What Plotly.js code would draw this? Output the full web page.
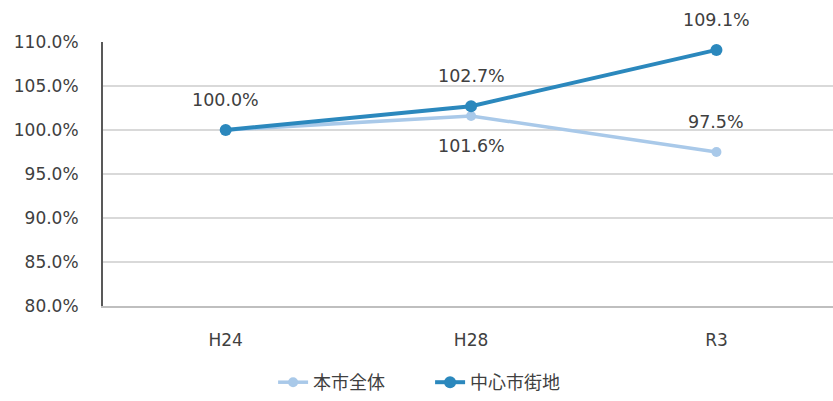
<!DOCTYPE html>
<html><head><meta charset="utf-8">
<script src="https://cdn.plot.ly/plotly-3.0.1.min.js"></script>
<style>html,body{margin:0;padding:0;background:#fff;}#c{width:833px;height:401px;}</style>
</head><body><div id="c"></div>
<script>
var categories = ["H24", "H28", "R3"];
var cityAll = [100.0, 101.6, 97.5];
var center = [100.0, 102.7, 109.1];
var cityAllLabels = ["", "101.6%", "97.5%"];
var centerLabels = ["100.0%", "102.7%", "109.1%"];
var cityAllLabelSide = [1, -1, 1];
var centerLabelSide = [1, 1, 1];
var yTicks = [80, 85, 90, 95, 100, 105, 110];
var yTickLabels = ["80.0%", "85.0%", "90.0%", "95.0%", "100.0%", "105.0%", "110.0%"];

var font = "'DejaVu Sans', 'Noto Sans CJK JP', sans-serif";
var cjk = "'Noto Sans CJK JP', sans-serif";
var traces = [
  {x: categories, y: cityAll, name: "本市全体", type: "scatter", mode: "lines+markers",
   line: {color: "#a9c9e9", width: 3.5}, marker: {color: "#a9c9e9", size: 10}, cliponaxis: false},
  {x: categories, y: center, name: "中心市街地", type: "scatter", mode: "lines+markers",
   line: {color: "#2b88bd", width: 4}, marker: {color: "#2b88bd", size: 12}, cliponaxis: false}
];
var annotations = [];
function addLabels(vals, labels, sides) {
  for (var i = 0; i < categories.length; i++) {
    if (!labels[i]) continue;
    annotations.push({x: categories[i], y: vals[i], text: labels[i], showarrow: false,
      yshift: 30 * sides[i], font: {family: font, size: 17.5, color: "#404040"}});
  }
}
addLabels(cityAll, cityAllLabels, cityAllLabelSide);
addLabels(center, centerLabels, centerLabelSide);

var layout = {
  width: 833, height: 401,
  margin: {l: 103, r: 0, t: 42, b: 92},
  paper_bgcolor: "#fff", plot_bgcolor: "#fff",
  font: {family: font, size: 14, color: "#404040"},
  showlegend: true,
  annotations: annotations,
  legend: {orientation: "h", x: 0.233, xanchor: "left", y: -0.29, yanchor: "middle",
           entrywidth: 112, entrywidthmode: "pixels",
           font: {family: cjk, size: 18, color: "#404040"}},
  xaxis: {type: "category", range: [-0.5, 2.475], showgrid: false, zeroline: false,
          showline: true, linecolor: "#bfbfbf", linewidth: 1.5, ticks: "",
          tickfont: {family: font, size: 17, color: "#404040"}, ticklabelstandoff: 18},
  yaxis: {range: [80, 110], tickvals: yTicks, ticktext: yTickLabels, showgrid: true,
          gridcolor: "#d9d9d9", gridwidth: 1.5, zeroline: false,
          showline: true, linecolor: "#595959", linewidth: 2, ticks: "",
          tickfont: {family: font, size: 17, color: "#404040"}, ticklabelstandoff: 19}
};
Plotly.newPlot("c", traces, layout, {displayModeBar: false, staticPlot: true});
</script></body></html>
